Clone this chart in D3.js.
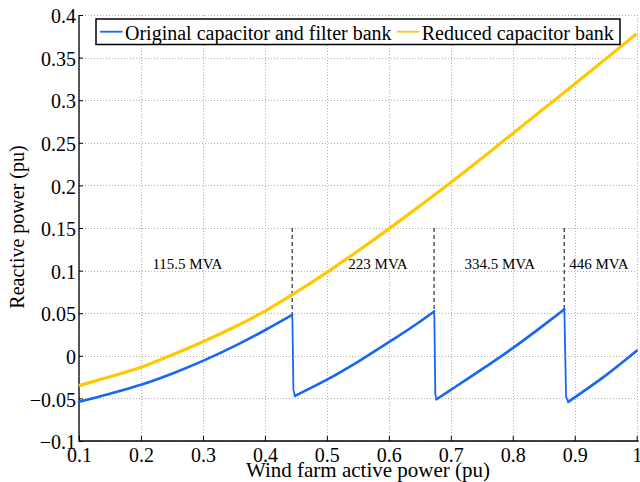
<!DOCTYPE html>
<html>
<head>
<meta charset="utf-8">
<script src="https://cdn.jsdelivr.net/npm/d3@7"></script>
<style>
  html, body { margin: 0; padding: 0; background: #fff; }
  svg { display: block; }
  text { font-family: "Liberation Serif", "Times New Roman", serif; fill: #000; }
</style>
</head>
<body>
<svg id="chart" width="640" height="482"></svg>
<script>
// ---------- data ----------
const seriesNames = ["Original capacitor and filter bank", "Reduced capacitor bank"];

const originalX = [0.1, 0.15, 0.2, 0.25, 0.3, 0.35, 0.4, 0.444, 0.4445, 0.446, 0.4485,
                   0.5, 0.55, 0.6, 0.65, 0.673, 0.6735, 0.675, 0.677,
                   0.7, 0.75, 0.8, 0.85, 0.883, 0.8835, 0.886, 0.8896,
                   0.95, 1.0];
const originalY = [-0.054, -0.0445, -0.034, -0.021, -0.006, 0.011, 0.030, 0.048, 0.040, -0.040, -0.047,
                   -0.028, -0.007, 0.016, 0.040, 0.052, 0.044, -0.045, -0.051,
                   -0.040, -0.016, 0.009, 0.036, 0.0545, 0.046, -0.048, -0.054,
                   -0.023, 0.006];

const reducedX = [0.1, 0.15, 0.2, 0.25, 0.3, 0.35, 0.4, 0.45, 0.5, 0.55, 0.6, 0.65,
                  0.7, 0.75, 0.8, 0.85, 0.9, 0.95, 1.0];
const reducedY = [-0.035, -0.0245, -0.0135, 0.001, 0.0165, 0.0335, 0.0525, 0.0745, 0.098, 0.123, 0.149, 0.176,
                  0.2035, 0.232, 0.261, 0.290, 0.319, 0.3485, 0.378];

const switchX = [0.444, 0.673, 0.883];
const switchTopY = [0.15, 0.15, 0.15];
const switchBottomY = [0.048, 0.052, 0.0545];

const annotationLabels = ["115.5 MVA", "223 MVA", "334.5 MVA", "446 MVA"];
const annotationX = [0.275, 0.5825, 0.779, 0.939];
const annotationY = [0.102, 0.102, 0.102, 0.102];

const xTicks = [0.1, 0.2, 0.3, 0.4, 0.5, 0.6, 0.7, 0.8, 0.9, 1.0];
const xTickLabels = ["0.1", "0.2", "0.3", "0.4", "0.5", "0.6", "0.7", "0.8", "0.9", "1"];
const yTicks = [-0.1, -0.05, 0, 0.05, 0.1, 0.15, 0.2, 0.25, 0.3, 0.35, 0.4];
const yTickLabels = ["\u22120.1", "\u22120.05", "0", "0.05", "0.1", "0.15", "0.2", "0.25", "0.3", "0.35", "0.4"];

const xLabel = "Wind farm active power (pu)";
const yLabel = "Reactive power (pu)";

// ---------- drawing ----------
(function () {
const colors = ["#1767f2", "#ffc800"];
const svg = d3.select("#chart");
const pL = 79, pR = 636.7, pT = 15, pB = 441;

const x = d3.scaleLinear().domain([0.1, 1.0]).range([pL, pR]);
const y = d3.scaleLinear().domain([-0.1, 0.4]).range([pB, pT]);

// grid
const grid = svg.append("g").attr("stroke", "#b0b0b0").attr("stroke-width", 1)
  .attr("stroke-dasharray", "1,2").attr("fill", "none");
grid.selectAll("line.vx").data(xTicks).join("line")
  .attr("x1", d => Math.round(x(d)) + 0.5).attr("x2", d => Math.round(x(d)) + 0.5)
  .attr("y1", pT).attr("y2", pB);
grid.selectAll("line.hy").data(yTicks).join("line")
  .attr("y1", d => Math.round(y(d)) + 0.5).attr("y2", d => Math.round(y(d)) + 0.5)
  .attr("x1", pL).attr("x2", pR);

// axes
const xAxis = d3.axisBottom(x).tickValues(xTicks)
  .tickFormat((d, i) => xTickLabels[i]).tickSize(-5).tickPadding(7);
const yAxis = d3.axisLeft(y).tickValues(yTicks)
  .tickFormat((d, i) => yTickLabels[i]).tickSize(-4).tickPadding(3);

const gx = svg.append("g").attr("transform", `translate(0,${pB})`).call(xAxis);
const gy = svg.append("g").attr("transform", `translate(${pL},0)`).call(yAxis);
[gx, gy].forEach(g => {
  g.select(".domain").remove();
  g.selectAll(".tick line").attr("stroke", "#000").attr("stroke-width", 1);
  g.selectAll(".tick text").attr("font-size", 20)
    .attr("font-family", "'Liberation Serif', 'Times New Roman', serif").attr("fill", "#000");
});
gy.selectAll(".tick text").attr("dy", "0.38em");

svg.append("line").attr("x1", pL).attr("x2", pL).attr("y1", pT).attr("y2", pB + 0.5)
  .attr("stroke", "#000").attr("stroke-width", 1.3);
svg.append("line").attr("x1", pL).attr("x2", pR + 2).attr("y1", pB).attr("y2", pB)
  .attr("stroke", "#000").attr("stroke-width", 1.3);

// dashed switching markers
svg.append("g").selectAll("line").data(switchX).join("line")
  .attr("x1", d => x(d)).attr("x2", d => x(d))
  .attr("y1", (d, i) => y(switchTopY[i])).attr("y2", (d, i) => y(switchBottomY[i]))
  .attr("stroke", "#000").attr("stroke-width", 1).attr("stroke-dasharray", "4,3");

// curves
const reducedData = reducedX.map((v, i) => [v, reducedY[i]]);
const originalData = originalX.map((v, i) => [v, originalY[i]]);
const smoothLine = d3.line().x(d => x(d[0])).y(d => y(d[1])).curve(d3.curveMonotoneX);
const straightLine = d3.line().x(d => x(d[0])).y(d => y(d[1]));

svg.append("path").datum(reducedData).attr("d", smoothLine)
  .attr("fill", "none").attr("stroke", colors[1]).attr("stroke-width", 3.2);

// split original series into rising runs (smooth) and falling runs (straight drops)
const runs = [];
let cur = [originalData[0]], rising = originalData[1][1] >= originalData[0][1];
for (let i = 1; i < originalData.length; i++) {
  const up = originalData[i][1] >= originalData[i - 1][1];
  if (up !== rising) {
    runs.push({pts: cur, rising});
    cur = [originalData[i - 1]];
    rising = up;
  }
  cur.push(originalData[i]);
}
runs.push({pts: cur, rising});
const gOrig = svg.append("g").attr("fill", "none").attr("stroke", colors[0])
  .attr("stroke-linejoin", "round").attr("stroke-linecap", "round");
runs.forEach(r => {
  gOrig.append("path").datum(r.pts)
    .attr("d", r.rising ? smoothLine : straightLine)
    .attr("stroke-width", r.rising ? 2.6 : 1.8);
});

// annotations
svg.append("g").selectAll("text").data(annotationLabels).join("text")
  .attr("x", (d, i) => x(annotationX[i])).attr("y", (d, i) => y(annotationY[i]))
  .attr("text-anchor", "middle").attr("font-size", 15).text(d => d);

// axis labels
svg.append("text").attr("x", 368).attr("y", 476.5).attr("text-anchor", "middle")
  .attr("font-size", 21).text(xLabel);
svg.append("text").attr("transform", "translate(24,227) rotate(-90)")
  .attr("text-anchor", "middle").attr("font-size", 20).text(yLabel);

// legend
const leg = svg.append("g");
leg.append("rect").attr("x", 96).attr("y", 19).attr("width", 524).attr("height", 25.5)
  .attr("fill", "#fff").attr("stroke", "#000").attr("stroke-width", 1.5);
const legItems = [{lx: 100, tx: 125}, {lx: 396.7, tx: 421.7}];
seriesNames.forEach((name, i) => {
  leg.append("line").attr("x1", legItems[i].lx).attr("x2", legItems[i].lx + 22.6)
    .attr("y1", 31.7).attr("y2", 31.7).attr("stroke", colors[i]).attr("stroke-width", 1.8);
  leg.append("text").attr("x", legItems[i].tx).attr("y", 39.5).attr("font-size", 20).text(name);
});
})();
</script>
</body>
</html>
